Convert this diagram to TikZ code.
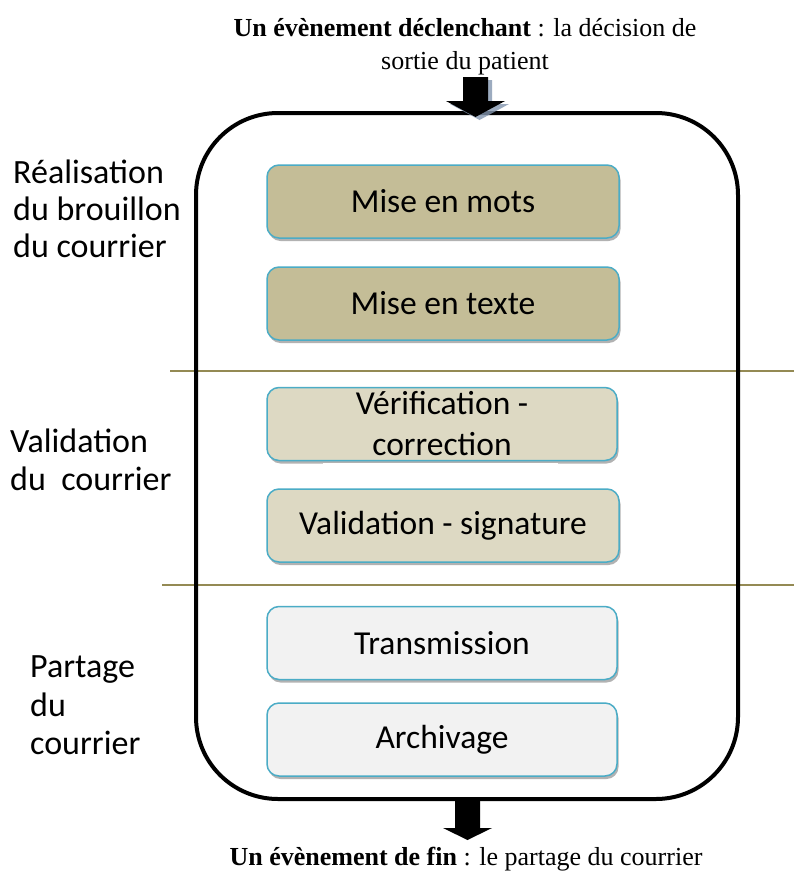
\documentclass[tikz,border=0pt]{standalone}
\usepackage{fontspec}
\setmainfont{Carlito}
\newfontfamily\tnr{Liberation Serif}
\usetikzlibrary{shadows}
\definecolor{boxblue}{HTML}{4BACC6}
\definecolor{tanA}{HTML}{C4BD97}
\definecolor{tanB}{HTML}{DDD9C3}
\definecolor{greyC}{HTML}{F2F2F2}
\definecolor{olive}{HTML}{948A54}
\definecolor{arrshadow}{HTML}{8497B0}
\begin{document}
\begin{tikzpicture}[x=1pt,y=-1pt,
  stepbox/.style={draw=boxblue, line width=1.5pt, rounded corners=12pt,
    minimum height=73pt, inner sep=0pt,
    font=\fontsize{33.5}{41}\selectfont, align=center,
    drop shadow={shadow xshift=1.5pt, shadow yshift=-3pt, opacity=0.3, fill=black}},
  lbl/.style={anchor=base west, inner sep=0pt, font=\fontsize{34}{40}\selectfont},
  ttl/.style={anchor=base, inner sep=0pt, font=\tnr\fontsize{26}{30}\selectfont},
  sepline/.style={draw=olive, line width=1.3pt},
  frame/.style={draw=black, line width=4pt, rounded corners=82pt, inner sep=0pt}]
\useasboundingbox[fill=white] (0,0) rectangle (794,876);

% titles
\node[ttl] (t1) at (465,36) {\textbf{Un évènement déclenchant} : la décision de};
\node[ttl] (t2) at (465,69) {sortie du patient};
\node[ttl] (t3) at (466,865) {\textbf{Un évènement de fin} : le partage du courrier};

% separators
\coordinate (s1a) at (170,371); \coordinate (s1b) at (794,371);
\coordinate (s2a) at (162,585); \coordinate (s2b) at (794,585);
\draw[sepline] (s1a) -- (s1b);
\draw[sepline] (s2a) -- (s2b);

% frame
\node[frame, minimum width=542pt, minimum height=686pt] (fr) at (467,456) {};

% top arrow with shadow
\fill[arrshadow, opacity=0.8] (467,80) -- (492,80) -- (492,104) -- (509,104) -- (479.5,120) -- (450,104) -- (467,104) -- cycle;
\fill[black] (463,77) -- (488,77) -- (488,101) -- (505,101) -- (475.5,117) -- (446,101) -- (463,101) -- cycle;

% bottom arrow
\fill[black] (455,797) -- (480,797) -- (480,828) -- (492,828) -- (467.5,840) -- (443,828) -- (455,828) -- cycle;

% step boxes
\node[stepbox, fill=tanA, minimum width=352pt] (b1) at (443,201.5) {Mise en mots};
\node[stepbox, fill=tanA, minimum width=352pt] (b2) at (443,303.5) {Mise en texte};
\node[stepbox, fill=tanB, minimum width=350pt] (b3) at (442,424) {Vérification -\\correction};
\fill[white] (323,462.5) rectangle (558,467);
\node[stepbox, fill=tanB, minimum width=352pt] (b4) at (443,525.5) {Validation - signature};
\node[stepbox, fill=greyC, minimum width=350pt] (b5) at (442,643) {Transmission};
\node[stepbox, fill=greyC, minimum width=350pt] (b6) at (442,739.5) {Archivage};

% phase labels
\node[lbl] (l1a) at (13,183) {Réalisation};
\node[lbl] (l1b) at (13,220) {du brouillon};
\node[lbl] (l1c) at (13,257) {du courrier};
\node[lbl] (l2a) at (10,452) {Validation};
\node[lbl] (l2b) at (10,490) {du\ \ courrier};
\node[lbl] (l3a) at (30,677) {Partage};
\node[lbl] (l3b) at (30,716) {du};
\node[lbl] (l3c) at (30,754) {courrier};
\end{tikzpicture}
\end{document}
